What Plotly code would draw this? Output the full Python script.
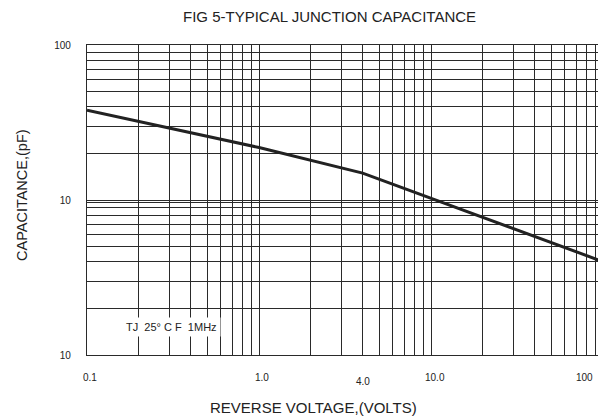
import numpy as np
import plotly.graph_objects as go

# Data
reverse_voltage = [0.1, 1.0, 4.0, 100.0]
capacitance_pf = [38.0, 21.8, 14.9, 4.0]

x_tick_vals = [0.1, 1.0, 4.0, 10.0, 100.0]
x_tick_text = ["0.1", "1.0", "4.0", "10.0", "100"]
y_tick_vals = [1, 10, 100]
y_tick_text = ["10", "10", "100"]

x_grid = [m * 10.0 ** e for e in (-1, 0, 1) for m in range(1, 10)] + [100.0]
y_grid = [m * 10.0 ** e for e in (0, 1) for m in range(1, 10)] + [9.6, 100.0]

FONT = "Liberation Sans, Arial, sans-serif"
INK = "#222222"
X_RANGE = [-1, 1.97]

fig = go.Figure()
fig.add_trace(go.Scatter(
    x=reverse_voltage, y=capacitance_pf, mode="lines",
    line=dict(color=INK, width=3), hoverinfo="skip", showlegend=False,
))

ytext = [y_tick_text[y_tick_vals.index(v)] if v in y_tick_vals else "" for v in y_grid]

fig.update_layout(
    width=598, height=417,
    margin=dict(l=87, r=0, t=45, b=62),
    paper_bgcolor="white", plot_bgcolor="white",
    font=dict(family=FONT, color=INK),
    xaxis=dict(
        type="log", range=X_RANGE, tickvals=x_grid, showticklabels=False,
        ticks="", showgrid=True, gridcolor="#2a2a2a", gridwidth=1.3,
        showline=True, linecolor="#2a2a2a", linewidth=1.3, mirror=True, zeroline=False,
    ),
    yaxis=dict(
        type="log", range=[0, 2], tickvals=y_grid, ticktext=ytext,
        ticks="", showgrid=True, gridcolor="#2a2a2a", gridwidth=1.3,
        showline=True, linecolor="#2a2a2a", linewidth=1.3, mirror=True, zeroline=False,
        tickfont=dict(size=10, family=FONT, color=INK), ticklabelstandoff=13,
    ),
)

shifts = {"0.1": (3, 0), "1.0": (3, 0), "4.0": (0, -4), "10.0": (4, 0)}
for v, t in zip(x_tick_vals, x_tick_text):
    if t in shifts:
        dx, dy = shifts[t]
        fig.add_annotation(x=np.log10(v), y=0, xref="x", yref="paper", text=t,
                           showarrow=False, yanchor="middle", xanchor="center",
                           yshift=-22 + dy, xshift=dx,
                           font=dict(size=10, family=FONT, color=INK))
    else:
        # the last label sits just inside the right edge of the frame
        fig.add_annotation(x=1, y=0, xref="paper", yref="paper", text=t,
                           showarrow=False, yanchor="middle", xanchor="right",
                           yshift=-22, xshift=-3,
                           font=dict(size=10, family=FONT, color=INK))

fig.add_annotation(x=(329 - 87) / 511, y=(355 - 16) / 310, xref="paper", yref="paper",
                   text="FIG 5-TYPICAL JUNCTION CAPACITANCE", showarrow=False,
                   xanchor="center", yanchor="middle",
                   font=dict(size=15, family=FONT, color=INK))
fig.add_annotation(x=(313 - 87) / 511, y=(355 - 407) / 310, xref="paper", yref="paper",
                   text="REVERSE VOLTAGE,(VOLTS)", showarrow=False,
                   xanchor="center", yanchor="middle",
                   font=dict(size=15, family=FONT, color=INK))
fig.add_annotation(x=(22 - 87) / 511, y=(355 - 195) / 310, xref="paper", yref="paper",
                   text="CAPACITANCE,(pF)", showarrow=False, textangle=-90,
                   xanchor="center", yanchor="middle",
                   font=dict(size=14.5, family=FONT, color=INK))
fig.add_annotation(x=(171 - 87) / 511, y=(355 - 327) / 310, xref="paper", yref="paper",
                   text="TJ  25° C F  1MHz", showarrow=False,
                   xanchor="center", yanchor="middle", bgcolor="white", borderpad=3,
                   font=dict(size=11, family=FONT, color=INK))

fig.write_html("out.html", config={"displayModeBar": False},
               post_script="document.body.style.margin='0';document.body.style.padding='0';")
